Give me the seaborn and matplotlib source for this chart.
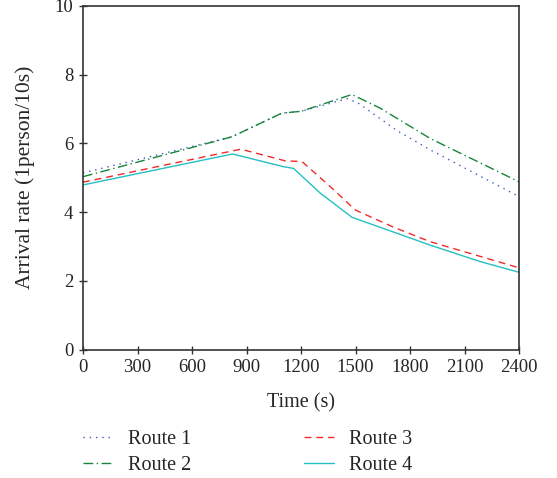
import pandas as pd
import matplotlib
matplotlib.use("Agg")
import matplotlib.pyplot as plt
import seaborn as sns

# values
route1_t = [0, 820, 1095, 1200, 1455, 1517, 1728, 1911, 2400]
route1_y = [5.14, 6.19, 6.88, 6.93, 7.30, 7.16, 6.37, 5.81, 4.45]

route2_t = [0, 820, 1095, 1200, 1480, 1636, 1911, 2400]
route2_y = [5.03, 6.19, 6.88, 6.93, 7.42, 7.02, 6.14, 4.88]

route3_t = [0, 869, 1113, 1205, 1361, 1499, 1710, 1911, 2400]
route3_y = [4.87, 5.83, 5.49, 5.47, 4.74, 4.06, 3.56, 3.14, 2.38]

route4_t = [0, 823, 1104, 1159, 1306, 1480, 1911, 2187, 2400]
route4_y = [4.79, 5.69, 5.32, 5.27, 4.55, 3.85, 3.04, 2.56, 2.25]

route_names = ["Route 1", "Route 2", "Route 3", "Route 4"]
x_ticks = [0, 300, 600, 900, 1200, 1500, 1800, 2100, 2400]
y_ticks = [0, 2, 4, 6, 8, 10]

frames = []
for name, t, y in zip(route_names,
                      [route1_t, route2_t, route3_t, route4_t],
                      [route1_y, route2_y, route3_y, route4_y]):
    frames.append(pd.DataFrame({"time": t, "rate": y, "route": name}))
df = pd.concat(frames, ignore_index=True)

sns.set_style("white")
plt.rcParams["font.family"] = ["Liberation Serif", "DejaVu Serif"]

palette = {"Route 1": "#4257c4", "Route 2": "#17853a",
           "Route 3": "#f22a2a", "Route 4": "#25c0c2"}
dashes = {"Route 1": (1, 3.5), "Route 2": (7, 2.5, 1, 2.5),
          "Route 3": (5, 3.5), "Route 4": ""}

fig = plt.figure(figsize=(5.57, 4.78), dpi=100)
ax = fig.add_axes([0.149, 0.2684, 0.783, 0.7196])

sns.lineplot(data=df, x="time", y="rate", hue="route", style="route",
             palette=palette, dashes=dashes, linewidth=1.0,
             estimator=None, sort=False, ax=ax)

ax.set_xlim(0, 2400)
ax.set_ylim(0, 10)
ax.set_xticks(x_ticks)
ax.set_yticks(y_ticks)
ax.set_xlabel("Time (s)", fontsize=14.5, labelpad=12)
ax.set_ylabel("Arrival rate (1person/10s)", fontsize=15.5, labelpad=14)
ax.tick_params(axis="both", labelsize=13.5, direction="inout", length=6,
               width=1.0, color="#333333", bottom=True, left=True, pad=4)
for s in ax.spines.values():
    s.set_linewidth(1.2)
    s.set_color("#333333")

handles, labels = ax.get_legend_handles_labels()
ax.legend(handles, labels, loc="upper left", bbox_to_anchor=(-0.033, -0.1925),
          ncol=2, frameon=False, fontsize=14.5, handlelength=1.5,
          columnspacing=5.6, labelspacing=0.33, handletextpad=0.75,
          borderaxespad=0.3)

fig.savefig("out.png", dpi=100)
